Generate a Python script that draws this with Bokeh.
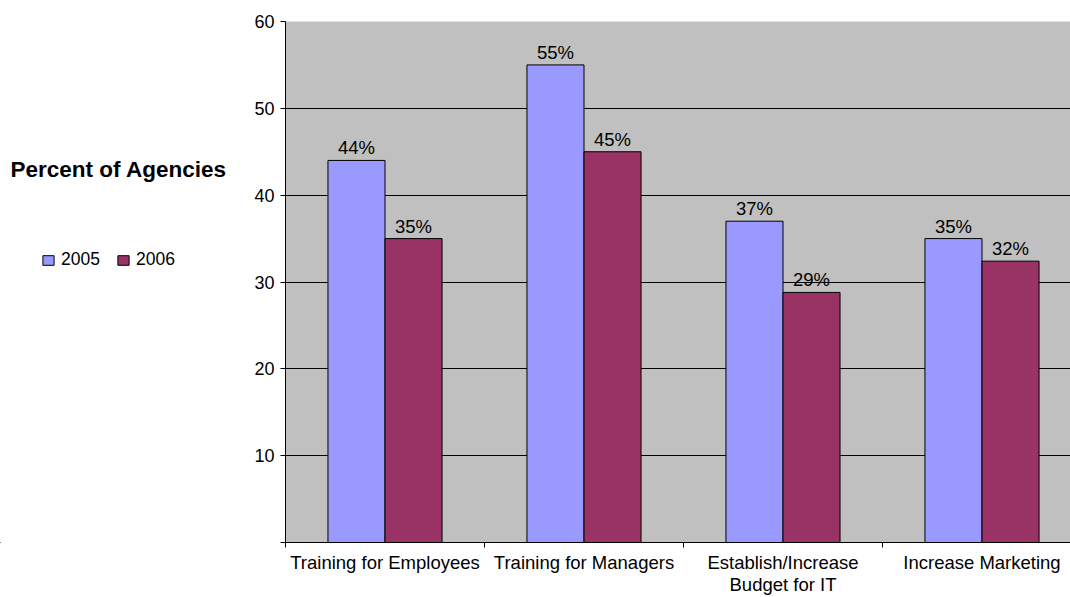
from bokeh.plotting import figure
from bokeh.layouts import row
from bokeh.models import (Range1d, FixedTicker, ColumnDataSource, LabelSet, Label,
                          Legend, LegendItem)
from bokeh.core.properties import value
from bokeh.transform import dodge
from bokeh.embed import file_html
from bokeh.resources import INLINE

categories = ["Training for Employees", "Training for Managers",
              "Establish/Increase\nBudget for IT", "Increase Marketing"]
years = ["2005", "2006"]
v2005 = [44, 55, 37, 35]
v2006 = [35, 45, 28.8, 32.4]
lab2005 = ["44%", "55%", "37%", "35%"]
lab2006 = ["35%", "45%", "29%", "32%"]
y_ticks = [0, 10, 20, 30, 40, 50, 60]
y_title = "Percent of Agencies"

FONT = "Liberation Sans"
C2005 = "#9999FF"
C2006 = "#993366"

# ---------------- left panel: axis title + legend ----------------
LW, H = 240, 597
p0 = figure(width=LW, height=H, output_backend="svg", toolbar_location=None,
            x_range=Range1d(0, LW), y_range=Range1d(0, H),
            x_axis_location=None, y_axis_location=None,
            min_border_left=0, min_border_right=0, min_border_top=0, min_border_bottom=0)
p0.grid.visible = False
p0.outline_line_color = None
p0.background_fill_color = "white"
p0.border_fill_color = "white"

# legend-only renderers (kept outside the visible range)
d1 = p0.vbar(x=[-500], top=[-500], bottom=-501, width=1, fill_color=C2005, line_color="black")
d2 = p0.vbar(x=[-500], top=[-500], bottom=-501, width=1, fill_color=C2006, line_color="black")

p0.add_layout(Label(x=10, y=H - 170, text=y_title, text_font=FONT,
                    text_font_size="22.5px", text_font_style="bold",
                    text_baseline="alphabetic", text_color="black"))

legend = Legend(items=[LegendItem(label=years[0], renderers=[d1]),
                       LegendItem(label=years[1], renderers=[d2])],
                orientation="horizontal", location=(41, H - 325),
                background_fill_alpha=0, border_line_color=None,
                padding=0, margin=0, spacing=16, label_standoff=6,
                glyph_width=14, glyph_height=12,
                label_text_font=FONT, label_text_font_size="17.5px",
                label_text_color="black")
p0.add_layout(legend)

# ---------------- main chart ----------------
idx = [i + 0.5 for i in range(len(categories))]
src = ColumnDataSource(dict(x=idx, v2005=v2005, v2006=v2006, l2005=lab2005, l2006=lab2006))

p = figure(width=1070 - LW, height=H, output_backend="svg", toolbar_location=None,
           x_range=Range1d(0, 785 / 199), y_range=Range1d(0, 60),
           min_border_left=45, min_border_right=0, min_border_top=21, min_border_bottom=54)
p.background_fill_color = "#C0C0C0"
p.border_fill_color = "white"
p.outline_line_color = None

W = 0.2866
off = W / 2
r1 = p.vbar(x=dodge("x", -off), top="v2005", width=W, source=src,
            fill_color=C2005, line_color="black", line_width=1)
r2 = p.vbar(x=dodge("x", off), top="v2006", width=W, source=src,
            fill_color=C2006, line_color="black", line_width=1)

for col, lab, d in (("v2005", "l2005", -off), ("v2006", "l2006", off)):
    ls = LabelSet(x=dodge("x", d), y=col, text=lab, source=src, y_offset=2,
                  text_align="center", text_baseline="bottom",
                  text_font=value(FONT), text_font_size="18.5px", text_color="black")
    p.add_layout(ls)

# y axis
p.yaxis.ticker = FixedTicker(ticks=y_ticks)
p.yaxis.major_label_overrides = {0: ""}
p.yaxis.major_tick_out = 5
p.yaxis.major_tick_in = 0
p.yaxis.minor_tick_out = 0
p.yaxis.minor_tick_in = 0
p.yaxis.major_label_standoff = 6
p.yaxis.major_label_text_font = FONT
p.yaxis.major_label_text_font_size = "18px"
p.yaxis.major_label_text_color = "black"
p.yaxis.axis_line_color = "black"
p.ygrid.ticker = FixedTicker(ticks=y_ticks)
p.ygrid.grid_line_color = "black"
p.ygrid.grid_line_width = 1
p.xgrid.grid_line_color = None

# x axis: labels at category centres, tick marks at category boundaries
p.xaxis.ticker = FixedTicker(ticks=idx, minor_ticks=list(range(len(categories))))
p.xaxis.major_label_overrides = {v: c for v, c in zip(idx, categories)}
p.xaxis.major_tick_out = 0
p.xaxis.major_tick_in = 0
p.xaxis.minor_tick_out = 5
p.xaxis.minor_tick_in = 0
p.xaxis.major_label_standoff = 4
p.xaxis.major_label_text_line_height = 1.05
p.xaxis.major_label_text_font = FONT
p.xaxis.major_label_text_font_size = "18.5px"
p.xaxis.major_label_text_color = "black"
p.xaxis.axis_line_color = "black"

layout = row(p0, p, spacing=0)
open("out.html", "w").write(file_html(layout, INLINE))
